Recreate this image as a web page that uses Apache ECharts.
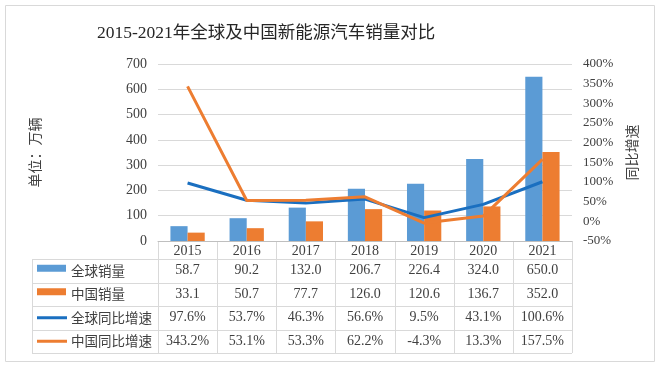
<!DOCTYPE html>
<html><head><meta charset="utf-8">
<script src="https://cdn.jsdelivr.net/npm/echarts@6/dist/echarts.min.js"></script>
<style>html,body{margin:0;padding:0;background:#fff}#c{width:660px;height:368px}</style>
</head><body><div id="c"></div>
<script>
const categories = ['2015','2016','2017','2018','2019','2020','2021'];
const globalSales = [58.7, 90.2, 132.0, 206.7, 226.4, 324.0, 650.0];
const chinaSales = [33.1, 50.7, 77.7, 126.0, 120.6, 136.7, 352.0];
const globalGrowth = [97.6, 53.7, 46.3, 56.6, 9.5, 43.1, 100.6];
const chinaGrowth = [343.2, 53.1, 53.3, 62.2, -4.3, 13.3, 157.5];
const seriesNames = ['全球销量', '中国销量', '全球同比增速', '中国同比增速'];
const leftAxis = {min: 0, max: 700, interval: 100};
const rightAxis = {min: -50, max: 400, interval: 50};
const titleText = '2015-2021年全球及中国新能源汽车销量对比';
const leftName = '单位：万辆';
const rightName = '同比增速';

const FONT = "'Liberation Serif','Noto Sans CJK SC',serif";
const CJK = "'Noto Sans CJK SC',sans-serif";
const BLUE = '#5B9BD5', ORANGE = '#ED7D31', LBLUE = '#1A6FC0', GRID = '#D9D9D9', TXT = '#404040';

const chart = echarts.init(document.getElementById('c'));
chart.setOption({
  animation: false,
  title: {text: titleText, left: 92, top: 20, textStyle: {fontFamily: FONT, fontSize: 17.5, fontWeight: 'normal', color: '#262626'}},
  grid: {left: 158, right: 88, top: 64, bottom: 127},
  xAxis: {
    type: 'category', data: categories,
    axisLine: {lineStyle: {color: '#BFBFBF'}}, axisTick: {show: false},
    axisLabel: {color: TXT, fontFamily: FONT, fontSize: 14, margin: 3}
  },
  yAxis: [{
    type: 'value', min: leftAxis.min, max: leftAxis.max, interval: leftAxis.interval,
    name: leftName, nameLocation: 'middle', nameRotate: 90, nameGap: 116,
    nameTextStyle: {fontFamily: CJK, fontSize: 14, color: TXT},
    axisLine: {show: false}, axisTick: {show: false},
    axisLabel: {color: TXT, fontFamily: FONT, fontSize: 14, margin: 11},
    splitLine: {lineStyle: {color: GRID}}
  }, {
    type: 'value', min: rightAxis.min, max: rightAxis.max, interval: rightAxis.interval,
    name: rightName, nameLocation: 'middle', nameRotate: 90, nameGap: 38,
    nameTextStyle: {fontFamily: CJK, fontSize: 14, color: TXT},
    axisLine: {show: false}, axisTick: {show: false},
    axisLabel: {color: TXT, fontFamily: FONT, fontSize: 13, margin: 11, formatter: '{value}%'},
    splitLine: {show: false}
  }],
  series: [
    {name: seriesNames[0], type: 'bar', data: globalSales, itemStyle: {color: BLUE}, barGap: '0%', barCategoryGap: '42%'},
    {name: seriesNames[1], type: 'bar', data: chinaSales, itemStyle: {color: ORANGE}},
    {name: seriesNames[2], type: 'line', yAxisIndex: 1, data: globalGrowth, showSymbol: false, lineStyle: {color: LBLUE, width: 3}, itemStyle: {color: LBLUE}},
    {name: seriesNames[3], type: 'line', yAxisIndex: 1, data: chinaGrowth, showSymbol: false, lineStyle: {color: ORANGE, width: 3}, itemStyle: {color: ORANGE}}
  ]
});

// Data table built from the arrays, positioned with the chart's own scales
const cx = categories.map((c, i) => chart.convertToPixel({xAxisIndex: 0}, i));
const band = cx[1] - cx[0];
const axisY = chart.convertToPixel({yAxisIndex: 0}, leftAxis.min);
const headerH = 18, rowH = 23.5;
const tableLeft = 32;
const colL = cx[0] - band / 2, colR = cx[cx.length - 1] + band / 2;
const rows = [
  {vals: globalSales.map(v => v.toFixed(1)), icon: 'bar', color: BLUE},
  {vals: chinaSales.map(v => v.toFixed(1)), icon: 'bar', color: ORANGE},
  {vals: globalGrowth.map(v => v.toFixed(1) + '%'), icon: 'line', color: LBLUE},
  {vals: chinaGrowth.map(v => v.toFixed(1) + '%'), icon: 'line', color: ORANGE}
];
const g = [];
const lineStyle = {stroke: GRID, lineWidth: 1};
g.push({type: 'rect', shape: {x: 5.5, y: 5.5, width: 649, height: 356}, style: {fill: null, stroke: GRID, lineWidth: 1}, silent: true});
const tableTop = axisY + headerH;
const tableBottom = tableTop + rowH * rows.length;
for (let i = 0; i <= categories.length; i++) {
  const x = Math.round(colL + i * band) + 0.5;
  g.push({type: 'line', shape: {x1: x, y1: axisY, x2: x, y2: tableBottom}, style: lineStyle, silent: true});
}
g.push({type: 'line', shape: {x1: tableLeft + 0.5, y1: tableTop, x2: tableLeft + 0.5, y2: tableBottom}, style: lineStyle, silent: true});
for (let r = 0; r <= rows.length; r++) {
  const y = Math.round(tableTop + r * rowH) + 0.5;
  g.push({type: 'line', shape: {x1: tableLeft, y1: y, x2: colR, y2: y}, style: lineStyle, silent: true});
}
rows.forEach((row, r) => {
  const yc = tableTop + r * rowH + rowH / 2;
  if (row.icon === 'bar') {
    g.push({type: 'rect', shape: {x: tableLeft + 5, y: yc - 6, width: 29, height: 7}, style: {fill: row.color}, silent: true});
  } else {
    g.push({type: 'line', shape: {x1: tableLeft + 5, y1: yc, x2: tableLeft + 35, y2: yc}, style: {stroke: row.color, lineWidth: 3}, silent: true});
  }
  g.push({type: 'text', x: tableLeft + 39, y: yc, style: {text: seriesNames[r], font: "13.5px " + CJK, fill: TXT, textAlign: 'left', textVerticalAlign: 'middle', verticalAlign: 'middle'}, silent: true});
  row.vals.forEach((v, i) => {
    g.push({type: 'text', x: cx[i], y: yc, style: {text: v, font: "14px " + FONT, fill: TXT, textAlign: 'center', align: 'center', textVerticalAlign: 'middle', verticalAlign: 'middle'}, silent: true});
  });
});
chart.setOption({graphic: g});
</script></body></html>
